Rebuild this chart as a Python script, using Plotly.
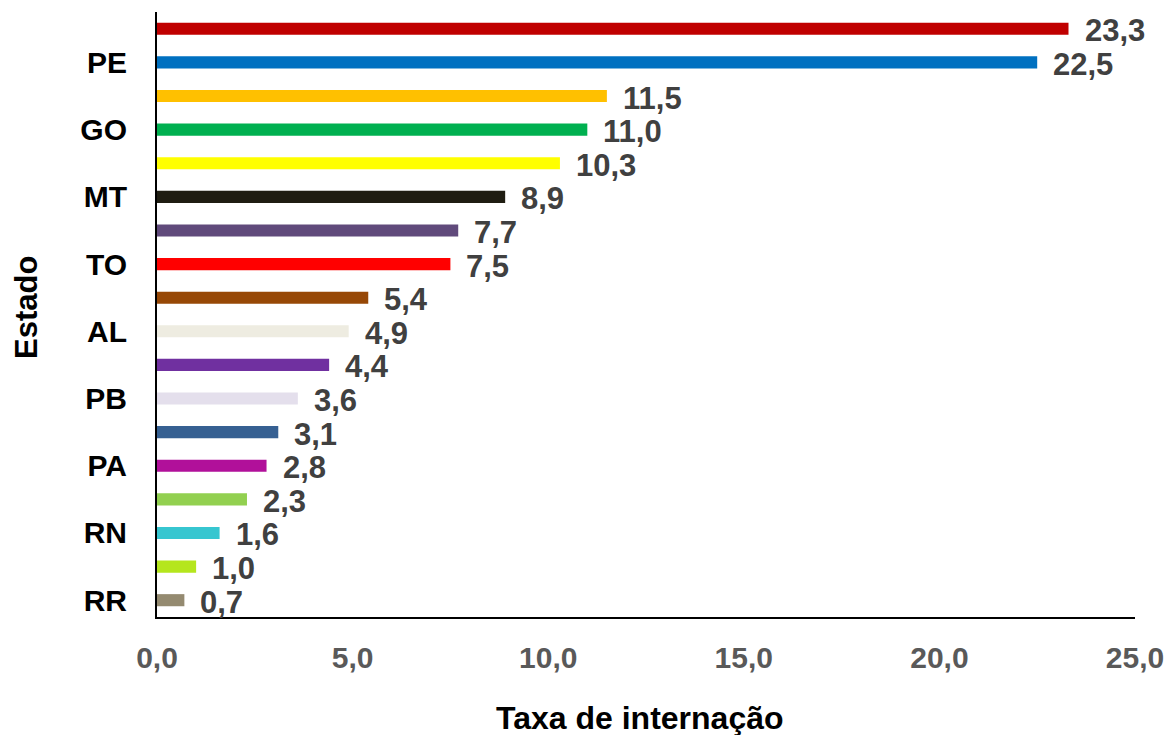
import plotly.graph_objects as go

# Data (top to bottom as displayed)
labels = ["", "PE", "", "GO", "", "MT", "", "TO", "", "AL", "", "PB", "", "PA", "", "RN", "", "RR"]
values = [23.3, 22.5, 11.5, 11.0, 10.3, 8.9, 7.7, 7.5, 5.4, 4.9, 4.4, 3.6, 3.1, 2.8, 2.3, 1.6, 1.0, 0.7]
colors = ["#C00000", "#0070C0", "#FFC000", "#00B050", "#FFFF00", "#1F1D12", "#604A7B", "#FF0000",
          "#974806", "#EEECE1", "#7030A0", "#E4DFEC", "#366092", "#B1109A", "#92D050", "#36C6D0",
          "#B5E61D", "#948A70"]
x_ticks = [0, 5, 10, 15, 20, 25]
x_ticktext = ["0,0", "5,0", "10,0", "15,0", "20,0", "25,0"]
x_title = "Taxa de internação"
y_title = "Estado"

pos = list(range(len(values)))

def fmt(v):
    return f"{v:.1f}".replace(".", ",")

FONT = "Liberation Sans, Arial"
L, R, T, B = 157, 39, 12, 118
W, H = 1174, 735

fig = go.Figure()
fig.add_trace(go.Bar(
    x=values, y=pos, orientation="h",
    marker=dict(color=colors, line=dict(width=0)),
    width=0.36, hoverinfo="x",
))

for p, v in zip(pos, values):
    fig.add_annotation(x=v, y=p, text=fmt(v), showarrow=False,
                       xanchor="left", yanchor="middle", xshift=14, yshift=-2,
                       font=dict(family=FONT, size=31, color="#404040", weight="bold"))

# axis titles
fig.add_annotation(xref="paper", yref="paper", x=(640 - L) / (W - L - R), y=0,
                   yshift=-(718 - (H - B)), xanchor="center", yanchor="middle",
                   text=x_title, showarrow=False,
                   font=dict(family=FONT, size=32, color="black", weight="bold"))
fig.add_annotation(xref="paper", yref="paper", x=0, xshift=-(L - 26),
                   y=1 - (308 - T) / (H - T - B), xanchor="center", yanchor="middle",
                   text=y_title, textangle=-90, showarrow=False,
                   font=dict(family=FONT, size=31, color="black", weight="bold"))

tick_idx = [i for i, l in enumerate(labels) if l]
fig.update_layout(
    width=W, height=H,
    margin=dict(l=L, r=R, t=T, b=B),
    paper_bgcolor="white", plot_bgcolor="white",
    showlegend=False,
    font=dict(family=FONT),
    xaxis=dict(
        range=[0, 25], tickvals=x_ticks, ticktext=x_ticktext,
        showgrid=False, zeroline=False, automargin=False,
        showline=True, linecolor="black", linewidth=2,
        ticks="", ticklabelstandoff=13,
        tickfont=dict(size=30, color="#595959", weight="bold"),
    ),
    yaxis=dict(
        range=[17.5, -0.5], tickvals=tick_idx, ticktext=[labels[i] for i in tick_idx],
        showgrid=False, zeroline=False, automargin=False,
        showline=True, linecolor="black", linewidth=2,
        ticks="", ticklabelstandoff=22,
        tickfont=dict(size=30, color="black", weight="bold"),
    ),
)

fig.write_html("out.html")
